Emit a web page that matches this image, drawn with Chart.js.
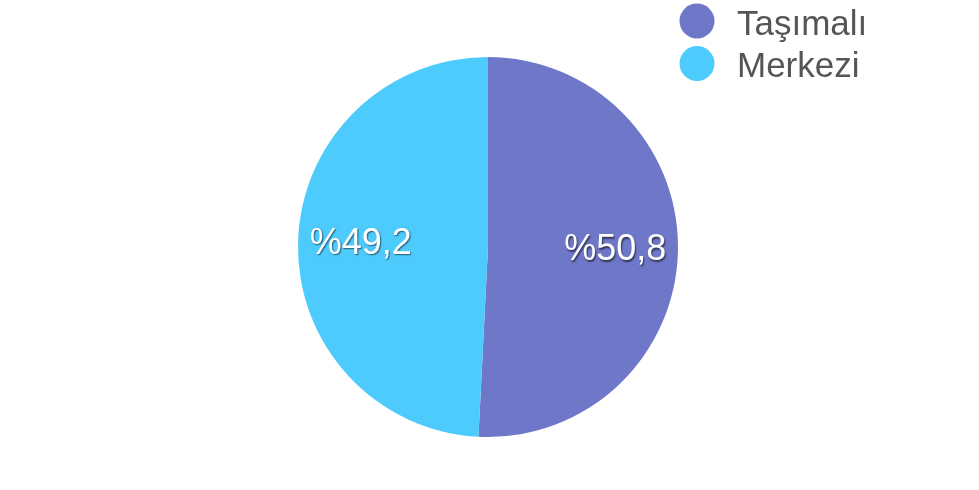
<!DOCTYPE html>
<html>
<head>
<meta charset="utf-8">
<script src="https://cdn.jsdelivr.net/npm/chart.js@4/dist/chart.umd.min.js"></script>
<style>
html,body{margin:0;padding:0;background:#fff;}
#wrap{width:979px;height:490px;position:relative;}
</style>
</head>
<body>
<div id="wrap"><canvas id="c" width="979" height="490"></canvas></div>
<script>
const categories = ["Taşımalı", "Merkezi"];
const values = [50.8, 49.2];
const valueLabels = ["%50,8", "%49,2"];
const colors = ["#6f77c8", "#4ecbfd"];

const sliceLabels = {
  id: "sliceLabels",
  afterDatasetsDraw(chart) {
    const ctx = chart.ctx;
    const meta = chart.getDatasetMeta(0);
    ctx.save();
    ctx.font = "36px 'Liberation Sans', Arial, sans-serif";
    ctx.textAlign = "center";
    ctx.textBaseline = "middle";
    meta.data.forEach((arc, i) => {
      const mid = (arc.startAngle + arc.endAngle) / 2;
      const r = arc.outerRadius * 0.67;
      const x = arc.x + Math.cos(mid) * r;
      const y = arc.y + Math.sin(mid) * r;
      ctx.shadowColor = "rgba(0,0,0,0.55)";
      ctx.shadowOffsetX = 1;
      ctx.shadowOffsetY = 1.5;
      ctx.shadowBlur = 1.5;
      ctx.fillStyle = "#ffffff";
      ctx.fillText(valueLabels[i], x, y);
    });
    ctx.restore();
  }
};

const customLegend = {
  id: "customLegend",
  afterDraw(chart) {
    const ctx = chart.ctx;
    ctx.save();
    const ds = chart.data.datasets[0];
    chart.data.labels.forEach((lab, i) => {
      const cy = 21 + i * 42.5;
      ctx.beginPath();
      ctx.arc(697, cy, 17.5, 0, Math.PI * 2);
      ctx.fillStyle = ds.backgroundColor[i];
      ctx.fill();
      ctx.font = "35px 'Liberation Sans', Arial, sans-serif";
      ctx.fillStyle = "#555555";
      ctx.textAlign = "left";
      ctx.textBaseline = "alphabetic";
      ctx.fillText(lab, 737, cy + 13.5);
    });
    ctx.restore();
  }
};

new Chart(document.getElementById("c"), {
  type: "pie",
  data: {
    labels: categories,
    datasets: [{
      data: values,
      backgroundColor: colors,
      borderWidth: 0
    }]
  },
  options: {
    responsive: false,
    animation: false,
    layout: { padding: { top: 57, bottom: 53, left: 0, right: 3 } },
    plugins: {
      legend: { display: false },
      tooltip: { enabled: false }
    }
  },
  plugins: [sliceLabels, customLegend]
});
</script>
</body>
</html>
